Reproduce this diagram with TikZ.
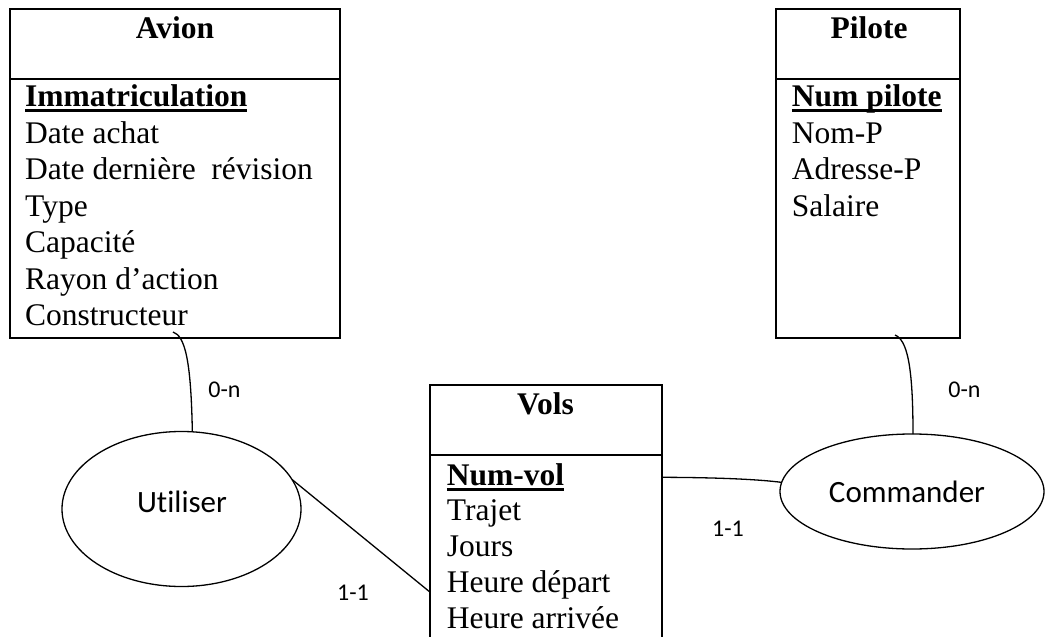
\documentclass[tikz,border=0pt]{standalone}
\usepackage{fontspec}
\setmainfont{Liberation Serif}
\newfontfamily\calfont[Ligatures=NoCommon]{Carlito}
\usetikzlibrary{shapes.geometric}
\newcommand{\keyattr}[1]{\setbox0\hbox{\bfseries #1}\rlap{\rule[-6pt]{\wd0}{3pt}}\box0}
\begin{document}
\begin{tikzpicture}[x=1pt,y=-1pt,
  entity/.style={draw, line width=2pt, rectangle, inner sep=0pt, outer sep=0pt, anchor=north west},
  divider/.style={line width=2pt},
  title/.style={font=\fontsize{31.5}{36.5}\selectfont\bfseries, anchor=base, inner sep=0pt},
  attr/.style={font=\fontsize{31.5}{36.5}\selectfont, anchor=base west, inner sep=0pt},
  assoc/.style={draw, ellipse, line width=1.3pt, inner sep=0pt, outer sep=0pt},
  assoclabel/.style={font=\calfont\fontsize{31}{36}\selectfont, anchor=base, inner sep=0pt},
  card/.style={font=\calfont\fontsize{24}{28}\selectfont, anchor=base, inner sep=0pt},
  link/.style={line width=1.3pt}]
\clip (0,0) rectangle (1045,637);

% Entity boxes
\node[entity, minimum width=329.5pt, minimum height=329pt] (avion) at (10,9) {};
\node[entity, minimum width=183.8pt, minimum height=329pt] (pilote) at (775.7,9) {};
\node[entity, minimum width=232.5pt, minimum height=320pt] (vols) at (429.5,385) {};

\draw[divider] (avion.west |- 0,79) -- (avion.east |- 0,79);
\draw[divider] (pilote.west |- 0,79) -- (pilote.east |- 0,79);
\draw[divider] (vols.west |- 0,455) -- (vols.east |- 0,455);

% Titles
\node[title] (avionT) at (175,38) {Avion};
\node[title] (piloteT) at (869,38) {Pilote};
\node[title] (volsT) at (545.5,414) {Vols};

% Avion attributes
\node[attr] (av1) at (25,106) {\keyattr{Immatriculation}};
\node[attr] (av2) at (25,143) {Date achat};
\node[attr] (av3) at (25,179.5) {Date dernière\ \ révision};
\node[attr] (av4) at (25,216) {Type};
\node[attr] (av5) at (25,252.5) {Capacité};
\node[attr] (av6) at (25,289) {Rayon d’action};
\node[attr] (av7) at (25,325.5) {Constructeur};

% Pilote attributes
\node[attr] (pi1) at (791.7,106) {\keyattr{Num pilote}};
\node[attr] (pi2) at (791.7,143) {Nom-P};
\node[attr] (pi3) at (791.7,179.5) {Adresse-P};
\node[attr] (pi4) at (791.7,216) {Salaire};

% Vols attributes
\node[attr] (vo1) at (446.7,485) {\keyattr{Num-vol}};
\node[attr] (vo2) at (446.7,520.5) {Trajet};
\node[attr] (vo3) at (446.7,556.5) {Jours};
\node[attr] (vo4) at (446.7,592) {Heure départ};
\node[attr] (vo5) at (446.7,628) {Heure arrivée};

% Associations
\node[assoc, minimum width=239pt, minimum height=155pt] (util) at (181.5,509) {};
\node[assoclabel] (utilT) at (182,512) {Utiliser};
\node[assoc, minimum width=264pt, minimum height=115pt] (comm) at (912,491.5) {};
\node[assoclabel] (commT) at (907,502) {Commander};

% Cardinalities
\node[card] (c1) at (224.5,397) {0-n};
\node[card] (c2) at (964.5,397) {0-n};
\node[card] (c3) at (353,600) {1-1};
\node[card] (c4) at (728,536.7) {1-1};

% Connectors
\coordinate (avionLink) at (173,332);
\draw[link] (avionLink) .. controls (185,336) and (191,360) .. (util.82);
\coordinate (piloteLink) at (895,335);
\draw[link] (piloteLink) .. controls (907,340) and (913,365) .. (comm.89);
\draw[link] (util.15) -- (vols.west |- 0,591.7);
\draw[link] (vols.east |- 0,477.3) .. controls (720,477.5) and (760,479.5) .. (comm.176);
\end{tikzpicture}
\end{document}
